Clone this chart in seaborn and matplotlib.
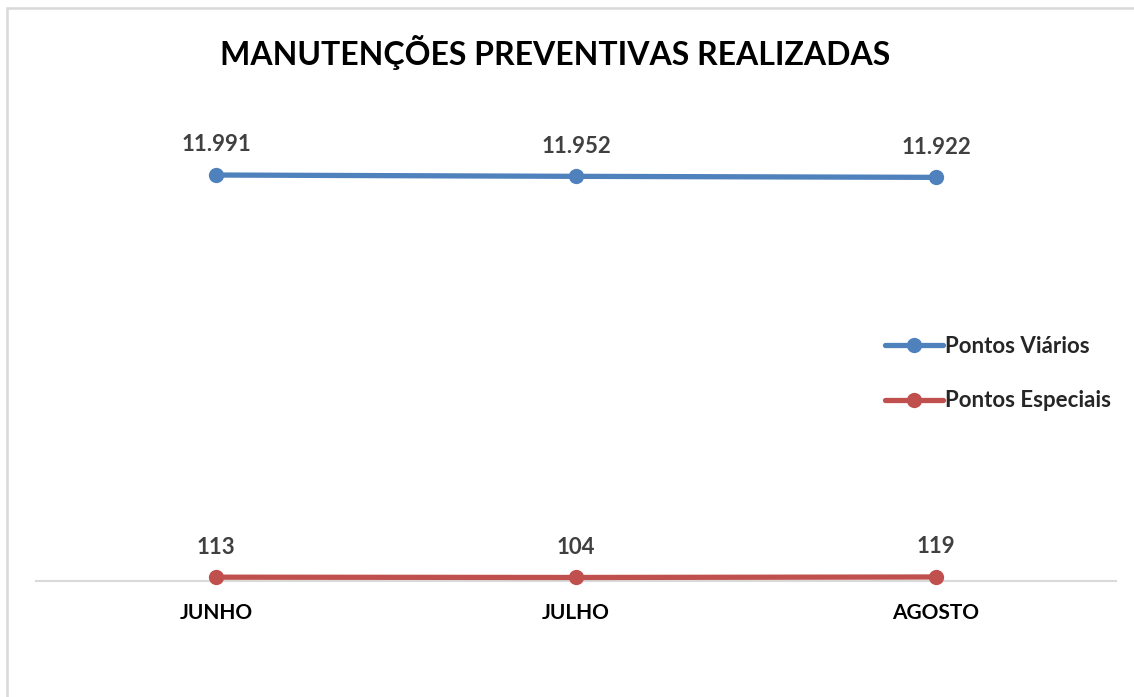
import pandas as pd
import matplotlib.pyplot as plt
import seaborn as sns
from matplotlib.patches import Rectangle
from matplotlib.lines import Line2D

# dados do grafico
meses = ["JUNHO", "JULHO", "AGOSTO"]
pontos_viarios = [11991, 11952, 11922]
pontos_especiais = [113, 104, 119]
series = ["Pontos Viários", "Pontos Especiais"]
cores = ["#4F81BD", "#C0504D"]

df = pd.DataFrame({
    "mes": meses * 2,
    "valor": pontos_viarios + pontos_especiais,
    "serie": [series[0]] * 3 + [series[1]] * 3,
})
df["pos"] = df["mes"].map({m: i for i, m in enumerate(meses)})

sns.set_style("white")
plt.rcParams["font.family"] = ["Lato", "DejaVu Sans"]

fig = plt.figure(figsize=(11.34, 6.97), dpi=100)
ax = fig.add_axes([36 / 1134, (697 - 581) / 697, 1080 / 1134, 474 / 697])

sns.lineplot(data=df, x="pos", y="valor", hue="serie", palette=cores,
             marker="o", markersize=11, markeredgewidth=0, linewidth=3.8,
             legend=False, ax=ax, clip_on=False, zorder=3)

# rotulos de dados
for _, r in df.iterrows():
    txt = f"{r['valor']:,}".replace(",", ".")
    ax.annotate(txt, (r["pos"], r["valor"]), xytext=(0, 17), textcoords="offset points",
                ha="center", va="baseline", fontsize=16, fontweight="bold", color="#404040")

ax.set_xlim(-0.5, 2.5)
ax.set_ylim(0, 14000)
ax.set_xticks(range(len(meses)))
ax.set_xticklabels(meses, fontsize=15, fontweight="bold", color="black")
ax.tick_params(axis="x", length=0, pad=16)
ax.set_yticks([])
ax.set_xlabel("")
ax.set_ylabel("")
for s in ["top", "left", "right"]:
    ax.spines[s].set_visible(False)
ax.spines["bottom"].set_color("#D9D9D9")
ax.spines["bottom"].set_linewidth(1.5)
ax.spines["bottom"].set_zorder(1)

handles = [Line2D([0], [0], color=c, lw=3.8, marker="o", markersize=11, markeredgewidth=0)
           for c in cores]
ax.legend(handles, series, loc="upper left", bbox_to_anchor=(849 / 1080, (581 - 336) / 474),
          frameon=False, handlelength=2.6, handletextpad=0.1, labelspacing=1.5,
          prop={"size": 16, "weight": "bold"}, borderaxespad=0, borderpad=0)

fig.text(555 / 1134, 1 - 53 / 697, "MANUTENÇÕES PREVENTIVAS REALIZADAS",
         ha="center", va="center", fontsize=23, fontweight="bold", color="black")

# borda do grafico
fig.patches.append(Rectangle((7 / 1134, -0.05), 1.1, 1 - 8 / 697 + 0.05,
                             transform=fig.transFigure, fill=False,
                             edgecolor="#D9D9D9", linewidth=1.8))

fig.savefig("out.png", dpi=100)
